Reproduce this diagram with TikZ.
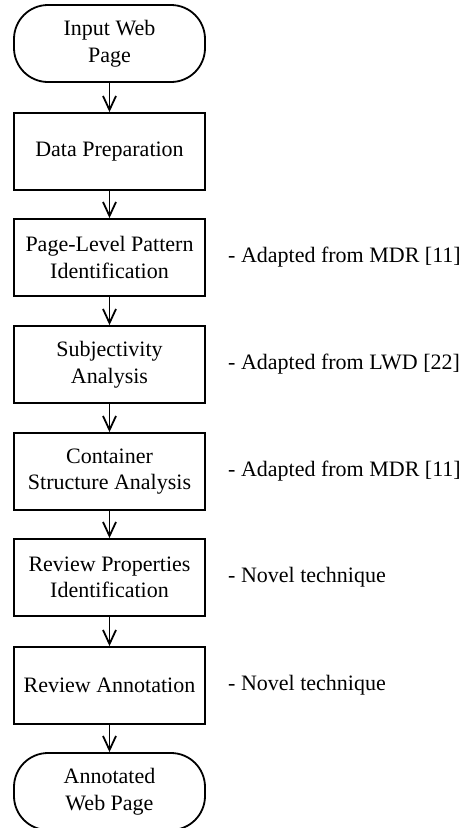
\documentclass[tikz,border=0pt]{standalone}
\usepackage{fontspec}
\setmainfont{Liberation Serif}
\usetikzlibrary{arrows.meta}
\begin{document}
\begin{tikzpicture}[x=1pt,y=-1pt,
  every node/.style={font=\fontsize{22}{26.5}\selectfont},
  procbox/.style={draw,line width=1.8pt,minimum width=191pt,minimum height=77pt,align=center,inner sep=0pt},
  termbox/.style={procbox,rounded corners=34pt},
  note/.style={anchor=west,inner sep=0pt},
  flow/.style={line width=1.8pt,-{Straight Barb[length=14pt,width=13pt,line width=1.8pt]}}]
\useasboundingbox (0,0) rectangle (461,828);
\node[termbox] (t1) at (109.5,43.5) {Input Web\\Page};
\node[procbox] (b1) at (109.5,151.5) {Data Preparation};
\node[procbox] (b2) at (109.5,257.5) {Page-Level Pattern\\Identification};
\node[procbox] (b3) at (109.5,364.5) {Subjectivity\\Analysis};
\node[procbox] (b4) at (109.5,471.5) {Container\\Structure Analysis};
\node[procbox] (b5) at (109.5,577.5) {Review Properties\\Identification};
\node[procbox] (b6) at (109.5,685.5) {Review Annotation};
\node[termbox] (t2) at (109.5,791.5) {Annotated\\Web Page};
\node[note] (n2) at (228,257.5) {- Adapted from MDR [11]};
\node[note] (n3) at (228,364.5) {- Adapted from LWD [22]};
\node[note] (n4) at (228,471.5) {- Adapted from MDR [11]};
\node[note] (n5) at (228,577.5) {- Novel technique};
\node[note] (n6) at (228,685.5) {- Novel technique};
\draw[flow] (t1) -- (b1);
\draw[flow] (b1) -- (b2);
\draw[flow] (b2) -- (b3);
\draw[flow] (b3) -- (b4);
\draw[flow] (b4) -- (b5);
\draw[flow] (b5) -- (b6);
\draw[flow] (b6) -- (t2);
\end{tikzpicture}
\end{document}
